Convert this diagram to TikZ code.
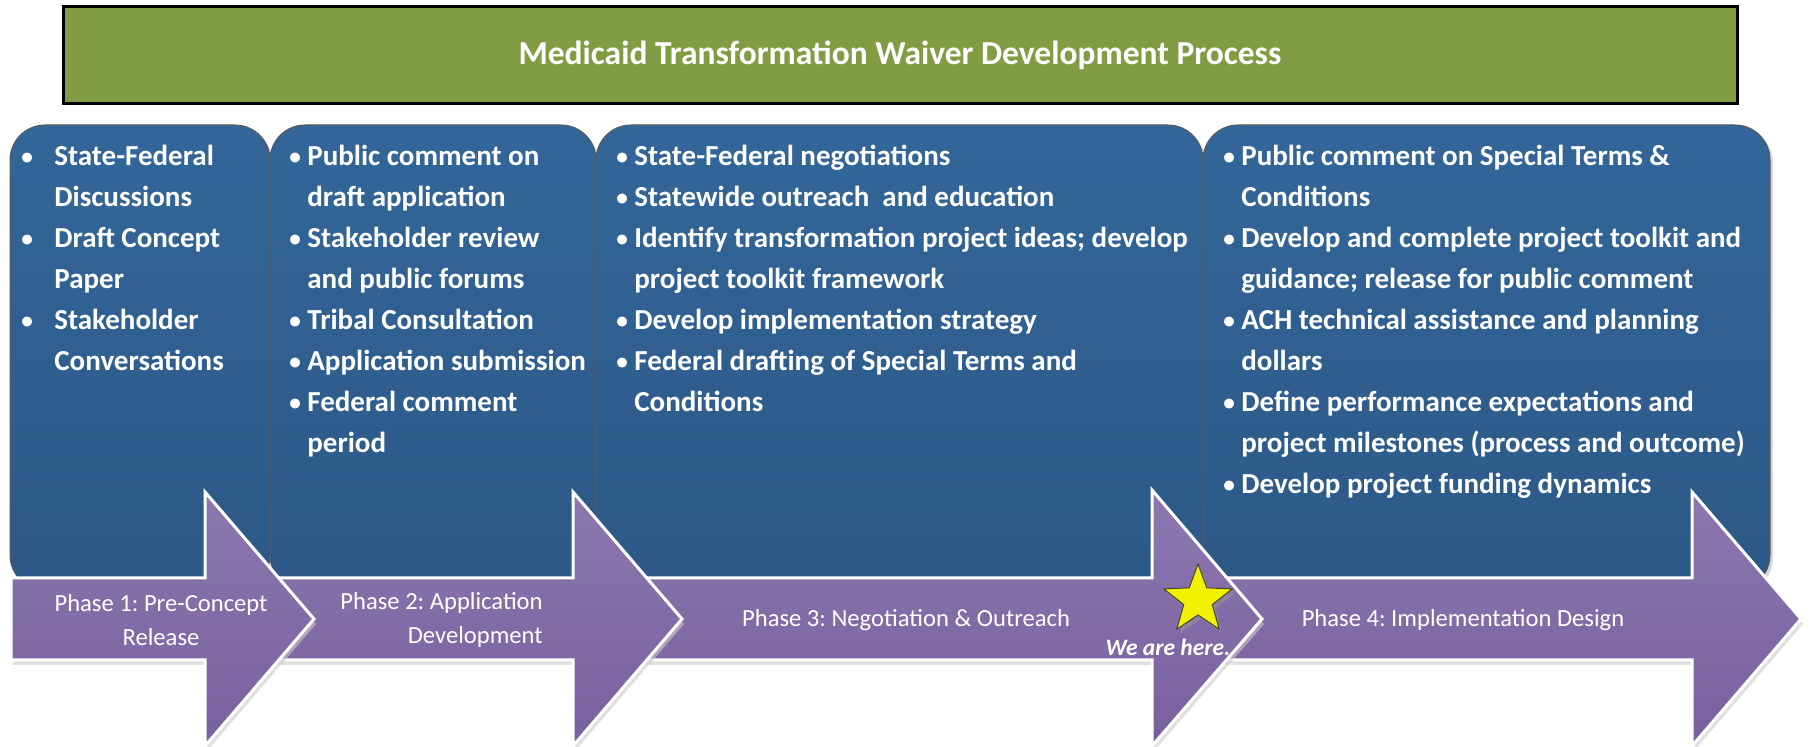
\documentclass[tikz,border=0pt]{standalone}
\usepackage{fontspec}
\usepackage{graphicx}
\setmainfont{Carlito}
\usetikzlibrary{shapes.geometric,shadows}

\definecolor{waivergreen}{RGB}{128,157,67}
\definecolor{boxtop}{RGB}{51,102,153}
\definecolor{boxbottom}{RGB}{44,88,134}
\definecolor{arrowtop}{RGB}{140,120,175}
\definecolor{arrowbottom}{RGB}{120,96,158}
\definecolor{staryellow}{RGB}{242,242,0}
\definecolor{staredge}{RGB}{70,70,40}

\newcommand{\bul}{\makebox[9pt][l]{\raisebox{0.06em}{\scalebox{0.8}{•}}}}
\newcommand{\bulwide}{\makebox[16.5pt][l]{\raisebox{0.06em}{\scalebox{0.8}{•}}}}

\tikzset{
	titlebar/.style={draw=black, line width=1.5pt, fill=waivergreen, text=white, minimum width=837pt, minimum height=48.5pt, inner sep=0pt, font=\fontsize{16.75}{20}\selectfont\bfseries},
	phasebox/.style={draw=black!65, line width=0.5pt, top color=boxtop, bottom color=boxbottom, rounded corners=17.5pt, drop shadow={shadow xshift=1.5pt, shadow yshift=-1.5pt, fill=black!30, opacity=0.5}},
	phasearrow/.style={draw=white, line width=1.5pt, top color=arrowtop, bottom color=arrowbottom, drop shadow={shadow xshift=1pt, shadow yshift=-2.5pt, fill=black!20, opacity=0.6}},
	itemtext/.style={anchor=base west, inner sep=0pt, text=white, font=\fontsize{14.5}{20.5}\selectfont\bfseries},
	phaselabel/.style={text=white, inner sep=0pt, align=center, font=\fontsize{12.3}{17}\selectfont\frenchspacing},
}

\begin{document}
\begin{tikzpicture}[x=0.5pt, y=-0.5pt]
		\useasboundingbox (0,0) rectangle (1810,747);
		% title
		\node[titlebar] (title) at (900,55.5) {Medicaid Transformation Waiver Development Process};
		% phase boxes
		\draw[phasebox] (10,125) rectangle (270,590);
		\draw[phasebox] (270,125) rectangle (596,590);
		\draw[phasebox] (596,125) rectangle (1203,590);
		\draw[phasebox] (1203,125) rectangle (1770,590);
		% phase 1 items
		\node[itemtext] (pre1) at (21,166) {\bulwide State-Federal};
		\node[itemtext] (pre2) at (54,207) {Discussions};
		\node[itemtext] (pre3) at (21,248) {\bulwide Draft Concept};
		\node[itemtext] (pre4) at (54,289) {Paper};
		\node[itemtext] (pre5) at (21,330) {\bulwide Stakeholder};
		\node[itemtext] (pre6) at (54,371) {Conversations};
		% phase 2 items
		\node[itemtext] (app1) at (289,166) {\bul Public comment on};
		\node[itemtext] (app2) at (307,207) {draft application};
		\node[itemtext] (app3) at (289,248) {\bul Stakeholder review};
		\node[itemtext] (app4) at (307,289) {and public forums};
		\node[itemtext] (app5) at (289,330) {\bul Tribal Consultation};
		\node[itemtext] (app6) at (289,371) {\bul Application submission};
		\node[itemtext] (app7) at (289,412) {\bul Federal comment};
		\node[itemtext] (app8) at (307,453) {period};
		% phase 3 items
		\node[itemtext] (neg1) at (616,166) {\bul State-Federal negotiations};
		\node[itemtext] (neg2) at (616,207) {\bul Statewide outreach\ \ and education};
		\node[itemtext] (neg3) at (616,248) {\bul Identify transformation project ideas; develop};
		\node[itemtext] (neg4) at (634,289) {project toolkit framework};
		\node[itemtext] (neg5) at (616,330) {\bul Develop implementation strategy};
		\node[itemtext] (neg6) at (616,371) {\bul Federal drafting of Special Terms and};
		\node[itemtext] (neg7) at (634,412) {Conditions};
		% phase 4 items
		\node[itemtext] (imp1) at (1223,166) {\bul Public comment on Special Terms \&};
		\node[itemtext] (imp2) at (1241,207) {Conditions};
		\node[itemtext] (imp3) at (1223,248) {\bul Develop and complete project toolkit and};
		\node[itemtext] (imp4) at (1241,289) {guidance; release for public comment};
		\node[itemtext] (imp5) at (1223,330) {\bul ACH technical assistance and planning};
		\node[itemtext] (imp6) at (1241,371) {dollars};
		\node[itemtext] (imp7) at (1223,412) {\bul Define performance expectations and};
		\node[itemtext] (imp8) at (1241,453) {project milestones (process and outcome)};
		\node[itemtext] (imp9) at (1223,494) {\bul Develop project funding dynamics};
		% phase arrows, last one first
		\draw[phasearrow] (1180,578) -- (1692,578) -- (1692,492) -- (1801,619) -- (1692,746) -- (1692,660) -- (1180,660) -- cycle;
		\draw[phasearrow] (600,578) -- (1152,578) -- (1152,490) -- (1262,619) -- (1152,746) -- (1152,660) -- (600,660) -- cycle;
		\draw[phasearrow] (240,578) -- (573,578) -- (573,492) -- (682,619) -- (573,746) -- (573,660) -- (240,660) -- cycle;
		\draw[phasearrow] (11,578) -- (205,578) -- (205,492) -- (314,619) -- (205,746) -- (205,660) -- (11,660) -- cycle;
		% phase labels
		\node[phaselabel] (ph1) at (161,620) {Phase 1: Pre-Concept\\Release};
		\node[phaselabel, align=right, anchor=east] (ph2) at (543,620) {Phase 2: Application\\Development};
		\node[phaselabel] (ph3) at (906,620) {Phase 3: Negotiation \& Outreach};
		\node[phaselabel] (ph4) at (1463,620) {Phase 4: Implementation Design};
		% current position
		\node[star, star points=5, star point ratio=2.4, minimum size=36pt, inner sep=0pt, draw=staredge, line width=0.5pt, fill=staryellow, drop shadow={shadow xshift=1.5pt, shadow yshift=-2pt, fill=black!40, opacity=0.5}] (here) at (1198,600) {};
		\node[text=white, inner sep=0pt, font=\fontsize{11.75}{14}\selectfont\bfseries\itshape] (herelabel) at (1168,647) {We are here.};
	\end{tikzpicture}
\end{document}
